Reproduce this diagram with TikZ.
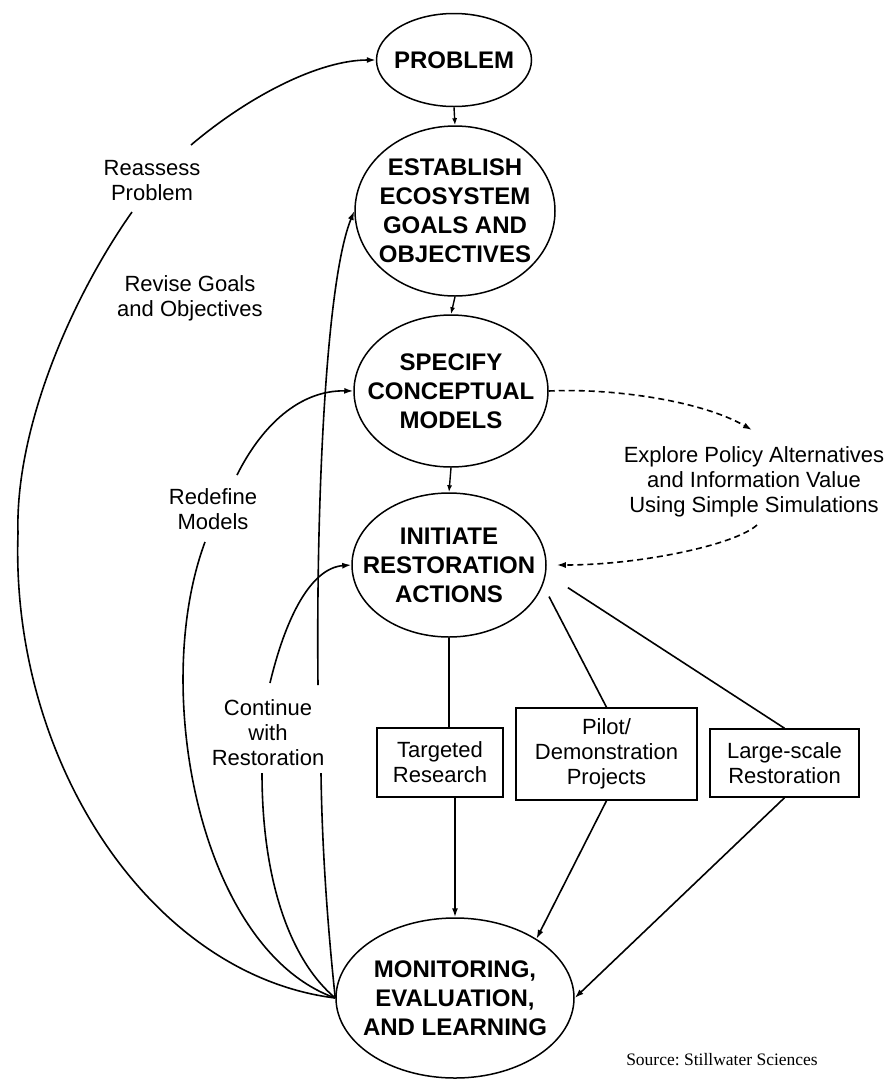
\documentclass[tikz,border=0pt]{standalone}
\usepackage{fontspec}
\setmainfont{Liberation Sans}
\newfontfamily\srcfont{Liberation Serif}
\usetikzlibrary{shapes.geometric,arrows.meta}
\begin{document}
\begin{tikzpicture}[x=1pt,y=-1pt,
  bubble/.style={ellipse, draw, line width=1.5pt, inner xsep=-40pt, inner ysep=-30pt, align=center, font=\fontsize{24}{29}\selectfont\bfseries},
  boxed/.style={rectangle, draw, line width=1.5pt, inner sep=0pt, align=center, font=\fontsize{22}{25}\selectfont},
  lab/.style={align=center, font=\fontsize{22}{25}\selectfont, inner sep=0pt},
  link/.style={line width=1.6pt},
  arr/.style={link, -{Latex[length=9pt,width=6pt]}},
  junc/.style={line width=1.4pt, -{Latex[length=7pt,width=5pt]}},
  dsh/.style={line width=1.6pt, dash pattern=on 6pt off 4pt, -{Latex[length=9pt,width=6pt]}}
]
\fill[white] (0,0) rectangle (894,1080);
\useasboundingbox (0,0) rectangle (894,1080);

% main ellipses
\node[bubble, minimum width=155pt, minimum height=93pt] (prob) at (454,60) {PROBLEM};
\node[bubble, minimum width=200pt, minimum height=170pt] (est) at (455,211) {ESTABLISH\\ECOSYSTEM\\GOALS AND\\OBJECTIVES};
\node[bubble, minimum width=194pt, minimum height=152pt] (spec) at (451,391) {SPECIFY\\CONCEPTUAL\\MODELS};
\node[bubble, minimum width=194pt, minimum height=144pt] (init) at (449,565) {INITIATE\\RESTORATION\\ACTIONS};
\node[bubble, minimum width=238pt, minimum height=160pt] (mon) at (455,998) {MONITORING,\\EVALUATION,\\AND LEARNING};

% boxes
\node[boxed, minimum width=126pt, minimum height=69pt] (tr) at (440,762.5) {Targeted\\Research};
\node[boxed, minimum width=181pt, minimum height=92pt] (pilot) at (606.5,754) {Pilot/\\Demonstration\\Projects};
\node[boxed, minimum width=149pt, minimum height=68pt] (large) at (784.5,763) {Large-scale\\Restoration};

% labels
\node[lab] (reassess) at (152,181) {Reassess\\Problem};
\node[lab] (revise) at (190,298) {Revise Goals\\and Objectives};
\node[lab] (redefine) at (213,509) {Redefine\\Models};
\node[lab] (cont) at (268,733) {Continue\\with\\Restoration};
\node[lab] (explore) at (754,482) {Explore Policy Alternatives\\and Information Value\\Using Simple Simulations};
\node[font=\srcfont\frenchspacing\fontsize{17.5}{20}\selectfont, inner sep=0pt] (src) at (722,1060) {Source: Stillwater Sciences};

% free ends of connectors beside the labels
\coordinate (rA) at (132,212);
\coordinate (rB) at (191,145);
\coordinate (rdA) at (205,542);
\coordinate (rdB) at (237,475);
\coordinate (cA) at (262,773);
\coordinate (cB) at (270,683);
\coordinate (eA) at (321,773);
\coordinate (eB) at (318,685);
\coordinate (dA) at (752,430);
\coordinate (dB) at (757,525);

% feedback loops
\draw[link] (mon.west) .. controls (150,975) and (10,760) .. (18,533) .. controls (15,430) and (70,300) .. (rA);
\draw[arr] (rB) .. controls (250,95) and (320,60) .. (prob.west);
\draw[link] (mon.west) .. controls (200,950) and (150,690) .. (rdA);
\draw[arr] (rdB) .. controls (262,425) and (300,390) .. (spec.west);
\draw[link] (mon.west) .. controls (290,960) and (262,880) .. (cA);
\draw[arr] (cB) .. controls (285,620) and (310,568) .. (init.west);
\draw[link] (mon.west) .. controls (328,930) and (322,850) .. (eA);
\draw[arr] (eB) .. controls (316,500) and (326,280) .. (est.west);

% main chain
\draw[junc] (prob.south) -- (est.north);
\draw[junc] (est.south) -- (spec.north);
\draw[junc] (spec.south) -- (init.north);

% actions
\draw[link] (init.south) -- (init.south |- tr.north);
\draw[link, shorten <=13pt] (init.-12.8) -- (pilot.north);
\draw[link, shorten <=26pt] (init.-5.3) -- (large.north);

\draw[arr] (tr.south -| mon.north) -- (mon.north);
\draw[arr] (pilot.south) -- (mon.36);
\draw[arr] (large.south) -- (mon.east);

% simulations
\draw[dsh] (spec.east) .. controls (610,388) and (700,400) .. (dA);
\draw[dsh, shorten >=10pt] (dB) .. controls (735,545) and (640,565) .. (init.east);
\end{tikzpicture}
\end{document}
